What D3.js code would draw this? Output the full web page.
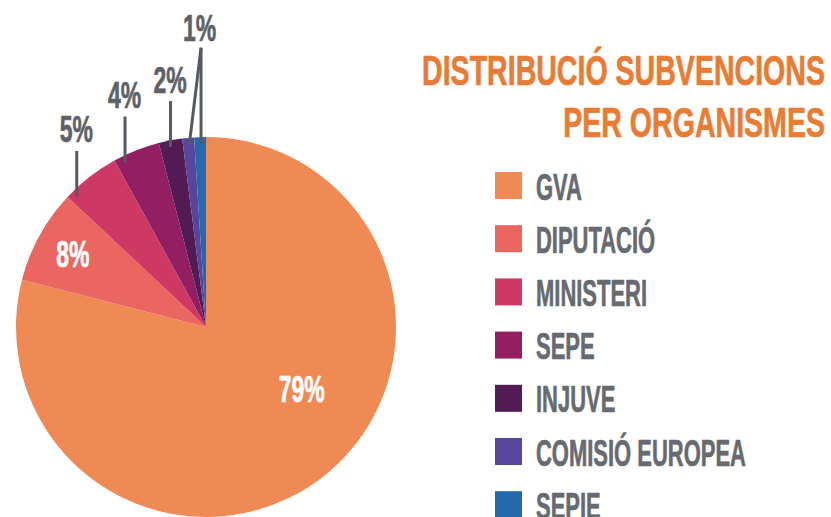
<!DOCTYPE html>
<html><head><meta charset="utf-8">
<script src="https://cdn.jsdelivr.net/npm/d3@7"></script>
<style>html,body{margin:0;padding:0;background:#fff;overflow:hidden}</style>
</head><body>
<svg id="chart" width="831" height="517"></svg>
<script>
// ---- data ----
const categories = ["GVA", "DIPUTACIÓ", "MINISTERI", "SEPE", "INJUVE", "COMISIÓ EUROPEA", "SEPIE"];
const values = [79, 8, 5, 4, 2, 1, 1];
const pctLabels = ["79%", "8%", "5%", "4%", "2%", "1%", "1%"];
const colors = ["#F08A54", "#EA6660", "#CD3963", "#931F62", "#521B53", "#58469C", "#2469AE"];
const titleLines = ["DISTRIBUCIÓ SUBVENCIONS", "PER ORGANISMES"];

// ---- layout ----
const cx = 206, cy = 327, R = 190;
const FONT = "'Liberation Sans',Arial,sans-serif";
const grayText = "#5E6168", legendText = "#676A71", lineColor = "#555960", titleColor = "#E87C34";

const svg = d3.select("#chart");

function condensedText(g, str, x, y, size, anchor, fill, k) {
  return g.append("text")
    .attr("transform", `translate(${x},${y}) scale(${k},1)`)
    .attr("text-anchor", anchor)
    .attr("font-family", FONT).attr("font-weight", "bold")
    .attr("font-size", size).attr("fill", fill)
    .attr("stroke", fill).attr("stroke-width", 0.7).attr("stroke-linejoin", "round")
    .text(str);
}
function measure(str, size) {
  const t = svg.append("text").attr("font-family", FONT).attr("font-weight", "bold")
    .attr("font-size", size).text(str);
  const w = t.node().getComputedTextLength();
  t.remove();
  return w;
}

// ---- pie ----
const pie = d3.pie().sort(null).value(d => d)(values);
const arc = d3.arc().innerRadius(0).outerRadius(R);
const gPie = svg.append("g").attr("transform", `translate(${cx},${cy})`);
gPie.selectAll("path").data(pie).join("path")
  .attr("d", arc).attr("fill", (d, i) => colors[i]);

const pctSize = 37.5;
const kPct = 46 / measure("79%", pctSize);

function polar(a, r) { return [Math.sin(a) * r, -Math.cos(a) * r]; }

// inside labels (GVA, DIPUTACIÓ)
const inside = [{ i: 0, frac: 0.432, r: 0.6 }, { i: 1, frac: 0.5, r: 0.8 }];
inside.forEach(o => {
  const d = pie[o.i];
  const a = d.startAngle + o.frac * (d.endAngle - d.startAngle);
  const [x, y] = polar(a, o.r * R);
  condensedText(gPie, pctLabels[o.i], x, y + 13.5, pctSize, "middle", "#fff", kPct);
});

// outside labels with vertical leader lines
const anchorR = 0.965 * R, lineLen = 46;
const outside = [{ i: 2, frac: 0.11 }, { i: 3, frac: 0.18 }, { i: 4, frac: 0.45 }];
outside.forEach(o => {
  const d = pie[o.i];
  const a = d.startAngle + o.frac * (d.endAngle - d.startAngle);
  const [x, y] = polar(a, anchorR);
  gPie.append("line").attr("x1", x).attr("x2", x).attr("y1", y).attr("y2", y - lineLen)
    .attr("stroke", lineColor).attr("stroke-width", 3);
  condensedText(gPie, pctLabels[o.i], x - 0.5, y - lineLen - 8.5, pctSize, "middle", grayText, kPct);
});

// shared label for the two 1% slices
const shared = [{ i: 5, frac: 0.55 }, { i: 6, frac: 0.57 }];
const pts = shared.map(o => {
  const d = pie[o.i];
  const a = d.startAngle + o.frac * (d.endAngle - d.startAngle);
  return polar(a, anchorR);
});
const apex = [pts[1][0], pts[1][1] - 96];
pts.forEach(p => {
  gPie.append("line").attr("x1", p[0]).attr("y1", p[1]).attr("x2", apex[0]).attr("y2", apex[1])
    .attr("stroke", lineColor).attr("stroke-width", 3);
});
condensedText(gPie, pctLabels[5], apex[0] - 1.5, apex[1] - 7, pctSize, "middle", grayText, kPct);

// ---- title ----
const titleSize = 41.6;
const kTitle = 403 / measure(titleLines[0], titleSize);
const titleBase = [85, 137];
titleLines.forEach((s, j) => condensedText(svg, s, 825, titleBase[j], titleSize, "end", titleColor, kTitle));

// ---- legend ----
const legY = d3.scalePoint().domain(categories).range([172, 172 + 6 * 53.2]);
const legSize = 37.5;
const kLeg = 210 / measure("COMISIÓ EUROPEA", legSize);
const gLeg = svg.append("g");
categories.forEach((c, i) => {
  gLeg.append("rect").attr("x", 495).attr("y", legY(c)).attr("width", 27).attr("height", 27)
    .attr("fill", colors[i]);
  condensedText(gLeg, c, 536, legY(c) + 27.5, legSize, "start", legendText, kLeg);
});
</script>
</body></html>
